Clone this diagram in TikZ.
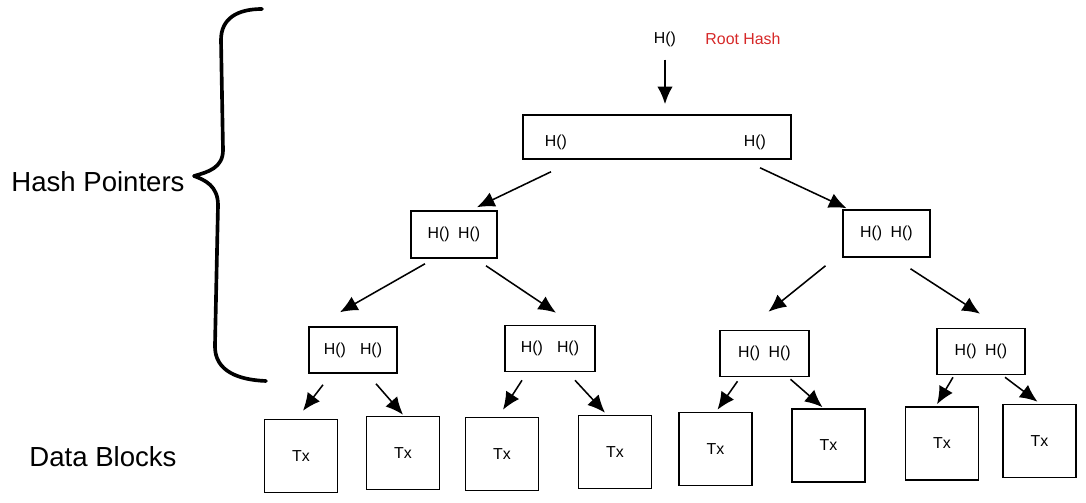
\documentclass[tikz,border=0pt]{standalone}
\usepackage{fontspec}
\setmainfont{Liberation Sans}
\usetikzlibrary{positioning,calc,arrows.meta}

\begin{document}
\begin{tikzpicture}[x=0.025cm,y=-0.025cm]
\tikzset{box/.style={draw,line width=1.1pt,inner sep=0pt,font=\fontsize{11.3}{13}\selectfont},
hnode/.style={box,minimum width=2.2cm,minimum height=1.15cm},
tx/.style={box,minimum width=1.825cm,minimum height=1.825cm},
lbl/.style={font=\fontsize{11.3}{13}\selectfont,inner sep=0pt},
big/.style={font=\fontsize{19.6}{22}\selectfont,inner sep=0pt},
arr/.style={-{Latex[length=12.5pt,width=11pt]},line width=1.1pt,draw},
}
\useasboundingbox (0,0) rectangle (1086,503);

% root
\node[lbl] (top) at (665,39) {H()};
\node[lbl,text={rgb,255:red,214;green,40;blue,40}] (rootlbl) at (743,39) {Root Hash};
\node[box,minimum width=6.7cm,minimum height=1.1cm] (root) at (657,137) {};
\node[lbl] (rootl) at (556,142) {H()};
\node[lbl] (rootr) at (755,142) {H()};

% level 2
\node[hnode,minimum width=2.15cm,minimum height=1.175cm] (h1) at (454,234.5) {H()\hspace{6pt}H()};
\node[hnode,minimum width=2.175cm,minimum height=1.175cm] (h2) at (886.5,233.5) {H()\hspace{6pt}H()};

% level 3
\node[hnode] (h11) at (353,350) {H()\hspace{10pt}H()};
\node[hnode,minimum width=2.25cm] (h12) at (550,348.5) {H()\hspace{10pt}H()};
\node[hnode,minimum width=2.225cm] (h21) at (764.5,353.5) {H()\hspace{6pt}H()};
\node[hnode] (h22) at (981,351.5) {H()\hspace{6pt}H()};

% data blocks
\node[tx] (t1) at (301,456) {Tx};
\node[tx] (t2) at (403,453) {Tx};
\node[tx] (t3) at (502,454) {Tx};
\node[tx] (t4) at (615,452) {Tx};
\node[tx] (t5) at (715.5,449) {Tx};
\node[tx] (t6) at (828.5,445.5) {Tx};
\node[tx] (t7) at (942,443.5) {Tx};
\node[tx] (t8) at (1039.5,441) {Tx};

\node[big] (hp) at (98,182) {Hash Pointers};
\node[big] (db) at (103,457) {Data Blocks};

% brace
\draw[line width=2.6pt,line cap=round,line join=round] (262,9) .. controls (238,9) and (221,18) .. (221,40)
  -- (223,150) .. controls (223,168) and (208,172) .. (194,176)
  .. controls (205,180) and (218,186) .. (218,205)
  -- (215,345) .. controls (214,372) and (240,380) .. (266,381);

% arrows
\path[arr,line width=1.5pt] ($(top.south)+(0,13)$) -- ($(root.north)+(8,-10)$);
\path[arr] ($(root.south)+(-106,12)$) -- ($(h1.north)+(23,-3)$);
\path[arr] ($(root.south)+(103,8)$) -- ($(h2.north)+(-40,-1)$);
\path[arr] ($(h1.south)+(-29,5)$) -- ($(h11.north)+(-13,-14)$);
\path[arr] ($(h1.south)+(32,7)$) -- ($(h12.north)+(6,-12)$);
\path[arr] ($(h2.south)+(-61,8)$) -- ($(h21.north)+(4,-18)$);
\path[arr] ($(h2.south)+(24,11)$) -- ($(h22.north)+(-1,-14)$);
\path[arr] ($(h11.south)+(-30,11)$) -- ($(t1.north)+(2,-8)$);
\path[arr] ($(h11.south)+(23,10)$) -- ($(t2.north)+(0,-1)$);
\path[arr] ($(h12.south)+(-28,8)$) -- ($(t3.north)+(1,-7)$);
\path[arr] ($(h12.south)+(25,8)$) -- ($(t4.north)+(-10,-2)$);
\path[arr] ($(h21.south)+(-27,4)$) -- ($(t5.north)+(2,-2)$);
\path[arr] ($(h21.south)+(26,2)$) -- ($(t6.north)+(-6,-1)$);
\path[arr] ($(h22.south)+(-28,2)$) -- ($(t7.north)+(-5,-2)$);
\path[arr] ($(h22.south)+(24,2)$) -- ($(t8.north)+(-2,-2)$);

\end{tikzpicture}
\end{document}
